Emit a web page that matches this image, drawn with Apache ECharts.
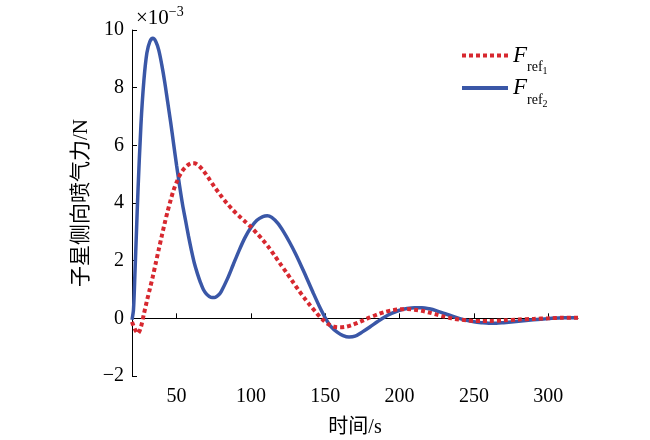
<!DOCTYPE html>
<html>
<head>
<meta charset="utf-8">
<script src="https://cdn.jsdelivr.net/npm/echarts@6/dist/echarts.min.js"></script>
<style>
  html, body { margin: 0; padding: 0; background: #fff; }
  #chart { width: 650px; height: 440px; }
</style>
</head>
<body>
<div id="chart"></div>
<script>
// values in units of 1e-3 N
var ref1T = [20, 22, 24, 26, 28, 30, 32, 34, 36, 38, 40, 42, 44, 46, 48, 50, 52, 54, 56, 58, 60, 62, 64, 66, 68, 70, 72, 74, 76, 78, 80, 84, 88, 92, 96, 100, 104, 108, 112, 116, 120, 124, 128, 132, 136, 140, 144, 148, 152, 156, 160, 164, 168, 172, 176, 180, 185, 190, 195, 200, 205, 210, 215, 220, 225, 230, 235, 240, 245, 250, 255, 260, 270, 280, 290, 300, 310, 320];
var ref1V = [-0.12, -0.38, -0.52, -0.3, 0.15, 0.6, 1.02, 1.45, 1.92, 2.39, 2.85, 3.3, 3.72, 4.1, 4.45, 4.72, 4.95, 5.12, 5.24, 5.33, 5.38, 5.38, 5.33, 5.24, 5.12, 4.98, 4.83, 4.67, 4.52, 4.38, 4.24, 3.98, 3.75, 3.55, 3.36, 3.17, 2.95, 2.72, 2.46, 2.17, 1.87, 1.58, 1.28, 0.98, 0.7, 0.44, 0.19, -0.03, -0.2, -0.29, -0.31, -0.29, -0.23, -0.15, -0.06, 0.03, 0.13, 0.22, 0.28, 0.31, 0.32, 0.3, 0.26, 0.2, 0.13, 0.06, 0.0, -0.04, -0.07, -0.09, -0.09, -0.09, -0.07, -0.04, -0.02, 0.0, 0.02, 0.02];

var ref2T = [20, 21, 22, 23, 24, 26, 28, 30, 32, 34, 36, 38, 40, 42, 44, 46, 48, 50, 52, 54, 56, 58, 60, 62, 64, 66, 68, 70, 72, 74, 76, 78, 80, 84, 88, 92, 96, 100, 104, 108, 111, 114, 118, 122, 126, 130, 134, 138, 142, 146, 150, 154, 158, 162, 166, 170, 175, 180, 185, 190, 195, 200, 205, 210, 215, 220, 225, 230, 235, 240, 245, 250, 255, 260, 265, 270, 280, 290, 300, 310, 320];
var ref2V = [-0.05, 0.3, 1.6, 3.0, 4.4, 6.7, 8.25, 9.2, 9.6, 9.71, 9.6, 9.3, 8.8, 8.2, 7.5, 6.8, 6.05, 5.3, 4.6, 3.95, 3.4, 2.85, 2.35, 1.9, 1.55, 1.25, 1.0, 0.85, 0.76, 0.72, 0.73, 0.8, 0.93, 1.35, 1.85, 2.35, 2.8, 3.15, 3.4, 3.53, 3.56, 3.5, 3.3, 3.0, 2.64, 2.24, 1.8, 1.34, 0.87, 0.42, 0.02, -0.3, -0.48, -0.6, -0.65, -0.62, -0.47, -0.3, -0.12, 0.05, 0.18, 0.28, 0.34, 0.37, 0.37, 0.33, 0.26, 0.17, 0.08, 0.0, -0.07, -0.12, -0.15, -0.17, -0.17, -0.15, -0.1, -0.05, -0.01, 0.02, 0.02];

var xTicks = [50, 100, 150, 200, 250, 300];
var seriesNames = ['ref1', 'ref2'];

function pairs(t, v) {
  return t.map(function (x, i) { return [x, v[i]]; });
}

var serif = '"Liberation Serif", "Noto Sans CJK SC", serif';

var myChart = echarts.init(document.getElementById('chart'));
var option = {
  backgroundColor: '#fff',
  animation: false,
  textStyle: { fontFamily: serif, color: '#000' },
  grid: { left: 132, right: 72, top: 30, bottom: 64, outerBoundsMode: 'none', containLabel: false },
  legend: {
    orient: 'vertical',
    left: 455,
    top: 39,
    itemWidth: 46,
    itemHeight: 14,
    itemGap: 0,
    data: seriesNames,
    itemStyle: { opacity: 0 },
    lineStyle: { width: 4 },
    formatter: function (name) {
      return '{f|F}{s|ref}{n|' + name.slice(3) + '}';
    },
    textStyle: {
      rich: {
        f: { fontFamily: serif, fontStyle: 'italic', fontSize: 23, lineHeight: 26, color: '#000' },
        s: { fontFamily: serif, fontSize: 14, lineHeight: 14, verticalAlign: 'bottom', padding: [0, 0, -6, 0], color: '#000' },
        n: { fontFamily: serif, fontSize: 10, lineHeight: 10, verticalAlign: 'bottom', padding: [0, 0, -8, 0], color: '#000' }
      }
    }
  },
  graphic: [{
    type: 'text',
    left: 136,
    top: 5,
    style: {
      text: '{a|×10}{b|−3}',
      rich: {
        a: { fontFamily: serif, fontSize: 21, lineHeight: 24, verticalAlign: 'bottom', fill: '#000' },
        b: { fontFamily: serif, fontSize: 14, lineHeight: 24, verticalAlign: 'top', padding: [0, 0, 8, 0], fill: '#000' }
      }
    }
  }],
  xAxis: {
    type: 'value',
    min: 20,
    max: 320,
    name: '时间/s',
    nameLocation: 'middle',
    nameGap: 42,
    nameTextStyle: { fontFamily: serif, fontSize: 20, color: '#000' },
    splitLine: { show: false },
    axisLine: { lineStyle: { color: '#000', width: 1 } },
    axisTick: { inside: true, length: 5, customValues: xTicks, lineStyle: { color: '#000' } },
    axisLabel: { customValues: xTicks, fontSize: 20, color: '#000', margin: 11, fontFamily: serif }
  },
  yAxis: {
    type: 'value',
    min: -2,
    max: 10,
    interval: 2,
    name: '子星侧向喷气力/N',
    nameLocation: 'middle',
    nameRotate: 90,
    nameGap: 39,
    nameTextStyle: { fontFamily: serif, fontSize: 21, color: '#000' },
    splitLine: { show: false },
    axisLine: { show: true, lineStyle: { color: '#000', width: 1 } },
    axisTick: { show: true, inside: true, length: 5, lineStyle: { color: '#000' } },
    axisLabel: {
      fontSize: 20, color: '#000', margin: 8, fontFamily: serif,
      formatter: function (v) { return String(v).replace('-', '−'); }
    }
  },
  series: [{
    name: 'ref1',
    type: 'line',
    data: pairs(ref1T, ref1V),
    smooth: 0.3,
    symbol: 'none',
    z: 3,
    lineStyle: { color: '#d7282f', width: 4, type: [4, 3] },
    itemStyle: { color: '#d7282f' }
  }, {
    name: 'ref2',
    type: 'line',
    data: pairs(ref2T, ref2V),
    smooth: 0.3,
    symbol: 'none',
    z: 2,
    lineStyle: { color: '#3a57a7', width: 3.5 },
    itemStyle: { color: '#3a57a7' }
  }]
};
myChart.setOption(option);
window.addEventListener('resize', function () {
  myChart.resize();
});
</script>
</body>
</html>
